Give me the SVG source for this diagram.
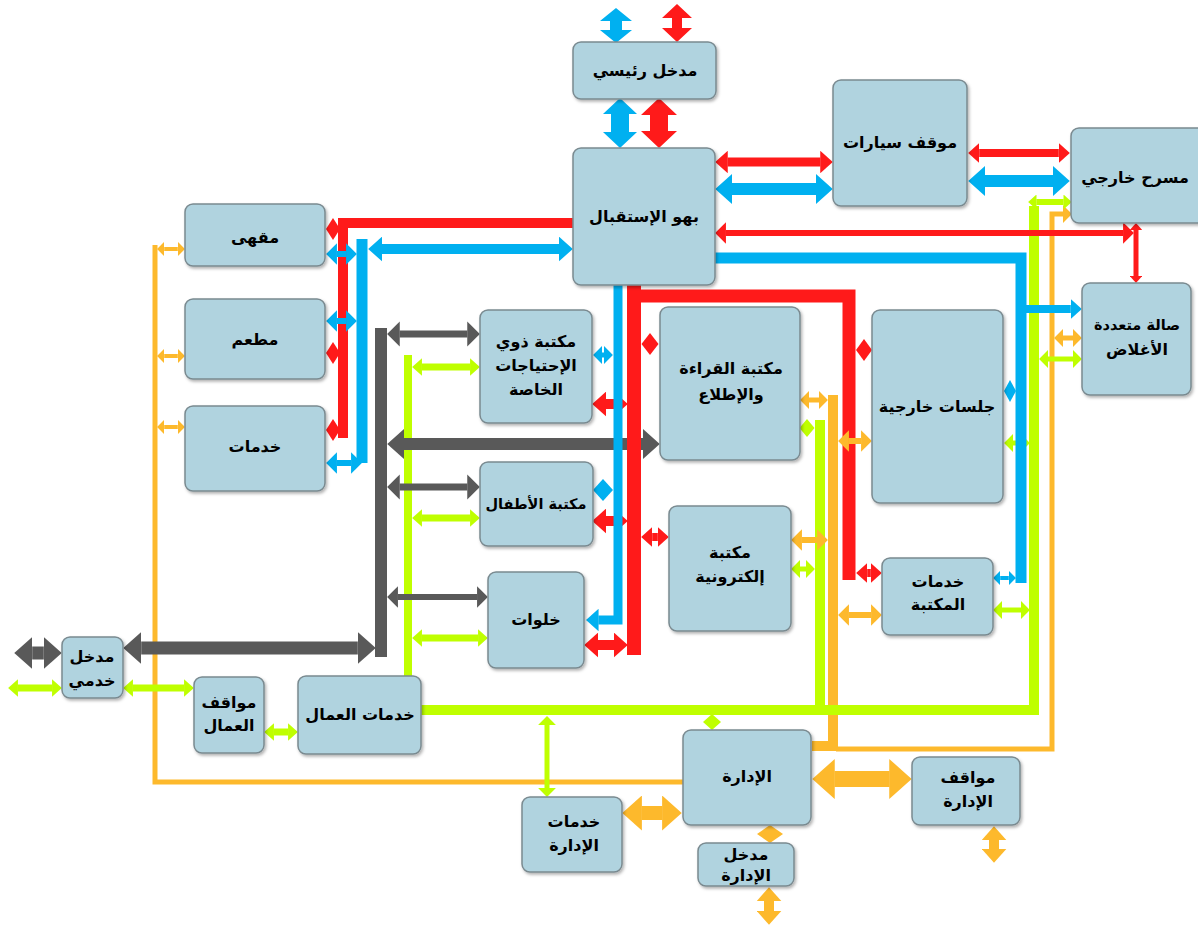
<svg xmlns="http://www.w3.org/2000/svg" width="1198" height="928" viewBox="0 0 1198 928">
<style>
.n rect{fill:#b0d3df;stroke:#7a8a90;stroke-width:1.5;filter:url(#sh)}
text{font-family:"DejaVu Sans",sans-serif;font-weight:bold;font-size:16px;text-anchor:middle;fill:#000}
text.s{font-size:14.5px}
line,polyline{fill:none}
.r{stroke:#ff1a1a}.b{stroke:#00b0f0}.g{stroke:#bfff00}.o{stroke:#fdb92c}.k{stroke:#595959}
.fr{fill:#ff1a1a}.fb{fill:#00b0f0}.fg{fill:#bfff00}.fo{fill:#fdb92c}.fk{fill:#595959}
.rn{marker-start:url(#rn);marker-end:url(#rn)}.rt{marker-start:url(#rt);marker-end:url(#rt)}
.bn{marker-start:url(#bn);marker-end:url(#bn)}.bt{marker-start:url(#bt);marker-end:url(#bt)}
.gn{marker-start:url(#gn);marker-end:url(#gn)}.gt{marker-start:url(#gt);marker-end:url(#gt)}
.on{marker-start:url(#on);marker-end:url(#on)}.ot{marker-start:url(#ot);marker-end:url(#ot)}
.kn{marker-start:url(#kn);marker-end:url(#kn)}.kt{marker-start:url(#kt);marker-end:url(#kt)}
</style>
<defs>
<filter id="sh" x="-10%" y="-10%" width="130%" height="130%"><feDropShadow dx="1.5" dy="2" stdDeviation="1.5" flood-color="#000" flood-opacity="0.3"/></filter>
<marker id="rn" viewBox="0 -1.25 1.4 2.5" refX="0.02" refY="0" markerWidth="1.4" markerHeight="2.5" orient="auto-start-reverse"><path d="M0,-1.25L1.4,0L0,1.25Z" fill="#ff1a1a"/></marker>
<marker id="bn" viewBox="0 -1.25 1.4 2.5" refX="0.02" refY="0" markerWidth="1.4" markerHeight="2.5" orient="auto-start-reverse"><path d="M0,-1.25L1.4,0L0,1.25Z" fill="#00b0f0"/></marker>
<marker id="gn" viewBox="0 -1.25 1.4 2.5" refX="0.02" refY="0" markerWidth="1.4" markerHeight="2.5" orient="auto-start-reverse"><path d="M0,-1.25L1.4,0L0,1.25Z" fill="#bfff00"/></marker>
<marker id="on" viewBox="0 -1.25 1.4 2.5" refX="0.02" refY="0" markerWidth="1.4" markerHeight="2.5" orient="auto-start-reverse"><path d="M0,-1.25L1.4,0L0,1.25Z" fill="#fdb92c"/></marker>
<marker id="kn" viewBox="0 -1.25 1.4 2.5" refX="0.02" refY="0" markerWidth="1.4" markerHeight="2.5" orient="auto-start-reverse"><path d="M0,-1.25L1.4,0L0,1.25Z" fill="#595959"/></marker>
<marker id="rt" viewBox="0 -1.8 1.8 3.6" refX="0.02" refY="0" markerWidth="1.8" markerHeight="3.6" orient="auto-start-reverse"><path d="M0,-1.8L1.8,0L0,1.8Z" fill="#ff1a1a"/></marker>
<marker id="bt" viewBox="0 -1.8 1.8 3.6" refX="0.02" refY="0" markerWidth="1.8" markerHeight="3.6" orient="auto-start-reverse"><path d="M0,-1.8L1.8,0L0,1.8Z" fill="#00b0f0"/></marker>
<marker id="gt" viewBox="0 -1.8 1.8 3.6" refX="0.02" refY="0" markerWidth="1.8" markerHeight="3.6" orient="auto-start-reverse"><path d="M0,-1.8L1.8,0L0,1.8Z" fill="#bfff00"/></marker>
<marker id="ot" viewBox="0 -1.8 1.8 3.6" refX="0.02" refY="0" markerWidth="1.8" markerHeight="3.6" orient="auto-start-reverse"><path d="M0,-1.8L1.8,0L0,1.8Z" fill="#fdb92c"/></marker>
<marker id="kt" viewBox="0 -1.8 1.8 3.6" refX="0.02" refY="0" markerWidth="1.8" markerHeight="3.6" orient="auto-start-reverse"><path d="M0,-1.8L1.8,0L0,1.8Z" fill="#595959"/></marker>
</defs>
<rect width="1198" height="928" fill="#fff"/>
<g id="connectors">
<g id="orange">
<polyline class="o" stroke-width="5" points="155,245 155,782 683,782"/>
<polyline class="o" stroke-width="5" points="836,749 1052,749 1052,214 1063,214" marker-end="url(#ot)"/>
<polyline class="o" stroke-width="10" points="812,746 833,746 833,395"/>
<line class="o ot" stroke-width="4" x1="164.2" y1="249" x2="177.8" y2="249"/>
<line class="o ot" stroke-width="4" x1="164.2" y1="356" x2="177.8" y2="356"/>
<line class="o ot" stroke-width="4" x1="164.2" y1="427" x2="177.8" y2="427"/>
<line class="o on" stroke-width="16" x1="834.4" y1="779" x2="889.6" y2="779"/>
<line class="o on" stroke-width="14" x1="641.6" y1="813" x2="662.4" y2="813"/>
<line class="o on" stroke-width="10" x1="769" y1="901" x2="769" y2="911"/>
<line class="o on" stroke-width="10" x1="994" y1="840" x2="994" y2="849"/>
<polygon class="fo" points="757,834 770,825 783,834 770,843"/>
<line class="o ot" stroke-width="5" x1="809" y1="400" x2="819" y2="400"/>
<line class="o ot" stroke-width="6" x1="848.8" y1="615" x2="871.2" y2="615"/>
<line class="o ot" stroke-width="5" x1="1063" y1="338" x2="1073" y2="338"/>
</g>
<g id="green">
<polyline class="g" stroke-width="10" points="421,710 1034,710 1034,206"/>
<line class="g" stroke-width="10" x1="820" y1="420" x2="820" y2="710"/>
<line class="g" stroke-width="8" x1="408" y1="355" x2="408" y2="676"/>
<line class="g gn" stroke-width="6" x1="1036.4" y1="202" x2="1063.6" y2="202"/>
<line class="g gt" stroke-width="5" x1="1048" y1="359" x2="1073" y2="359"/>
<line class="g gt" stroke-width="5" x1="1013" y1="443" x2="1021" y2="443"/>
<line class="g gt" stroke-width="5" x1="1002" y1="610" x2="1021" y2="610"/>
<polygon class="fg" points="799.5,428 807,419 814.5,428 807,437"/>
<line class="g gt" stroke-width="5" x1="800" y1="569" x2="806" y2="569"/>
<line class="g gn" stroke-width="7" x1="421.8" y1="367" x2="470.2" y2="367"/>
<line class="g gn" stroke-width="7" x1="421.8" y1="518" x2="470.2" y2="518"/>
<line class="g gn" stroke-width="7" x1="421.8" y1="638" x2="478.2" y2="638"/>
<line class="g gn" stroke-width="7" x1="17.8" y1="688" x2="52.2" y2="688"/>
<line class="g gn" stroke-width="7" x1="132.8" y1="688" x2="184.2" y2="688"/>
<line class="g gn" stroke-width="7" x1="273.8" y1="732" x2="288.2" y2="732"/>
<line class="g gt" stroke-width="5" x1="547" y1="725" x2="547" y2="788"/>
<polygon class="fg" points="703,722 712,714 721,722 712,730"/>
<line class="o ot" stroke-width="6" x1="801.8" y1="540" x2="817.2" y2="540"/>
</g>
<g id="gray">
<line class="k" stroke-width="12" x1="381" y1="328" x2="381" y2="657"/>
<line class="k kn" stroke-width="13" x1="141.2" y1="648" x2="357.8" y2="648"/>
<line class="k kn" stroke-width="13" x1="32.2" y1="653" x2="43.8" y2="653"/>
<line class="k kt" stroke-width="7" x1="399.6" y1="334" x2="467.4" y2="334"/>
<line class="k kn" stroke-width="12" x1="403.8" y1="444" x2="643.2" y2="444"/>
<line class="k kt" stroke-width="7" x1="399.6" y1="487" x2="467.4" y2="487"/>
<line class="k kt" stroke-width="6" x1="397.8" y1="597" x2="477.2" y2="597"/>
</g>
<g id="red">
<polygon class="fr" points="677,4 692,18 682,18 682,28 692,28 677,42 662,28 672,28 672,18 662,18"/>
<polygon class="fr" points="659,98 677,115 668,115 668,131 677,131 659,148 641,131 650,131 650,115 641,115"/>
<line class="r rn" stroke-width="9" x1="727.6" y1="162" x2="820.4" y2="162"/>
<line class="r rn" stroke-width="8" x1="979.2" y1="153" x2="1058.8" y2="153"/>
<line class="r rt" stroke-width="6" x1="725.8" y1="233" x2="1123.2" y2="233"/>
<line class="r rn" stroke-width="5" x1="1136" y1="230" x2="1136" y2="276"/>
<polyline class="r" stroke-width="10" points="573,223 343,223 343,438"/>
<polygon class="fr" points="326,229 333,218 340,229 333,240"/>
<polygon class="fr" points="326,353 333,342 340,353 333,364"/>
<polygon class="fr" points="326,430 333,419 340,430 333,441"/>
<line class="r" stroke-width="14" x1="634" y1="285" x2="634" y2="655"/>
<polyline class="r" stroke-width="13" points="627,296 849,296 849,580"/>
<line class="r rn" stroke-width="10" x1="606" y1="404" x2="614" y2="404"/>
<line class="r rn" stroke-width="10" x1="606" y1="521" x2="614" y2="521"/>
<line class="r rn" stroke-width="10" x1="598" y1="645" x2="614" y2="645"/>
<polygon class="fr" points="641.5,344 650,333 658.5,344 650,355"/>
<line class="r rn" stroke-width="8" x1="652.2" y1="537" x2="657.8" y2="537"/>
<polygon class="fr" points="856,350 864,339 872,350 864,361"/>
<line class="r rn" stroke-width="8" x1="867.2" y1="573" x2="870.8" y2="573"/>
</g>
<g id="blue">
<polygon class="fb" points="616,8 632,21 622,21 622,30 632,30 616,43 600,30 610,30 610,21 600,21"/>
<polygon class="fb" points="620,98 637,114 629,114 629,132 637,132 620,148 603,132 611,132 611,114 603,114"/>
<line class="b bn" stroke-width="12" x1="731.8" y1="189" x2="816.2" y2="189"/>
<line class="b bn" stroke-width="12" x1="984.8" y1="181" x2="1053.2" y2="181"/>
<polyline class="b" stroke-width="11" points="715,258 1021,258 1021,583"/>
<line class="b bt" stroke-width="4" x1="1000.2" y1="578" x2="1008.8" y2="578"/>
<line class="b" stroke-width="8" x1="1026" y1="309" x2="1070.8" y2="309" marker-end="url(#bn)"/>
<polygon class="fb" points="1004,391 1010,380 1016,391 1010,402"/>
<line class="b" stroke-width="11" x1="362" y1="239" x2="362" y2="463"/>
<line class="b bn" stroke-width="10" x1="382" y1="249" x2="559" y2="249"/>
<line class="b bt" stroke-width="6" x1="336.8" y1="254" x2="346.2" y2="254"/>
<line class="b bt" stroke-width="6" x1="336.8" y1="321" x2="346.2" y2="321"/>
<line class="b bt" stroke-width="6" x1="336.8" y1="463" x2="351.2" y2="463"/>
<polyline class="b" stroke-width="9" points="618,285 618,620 598.4,620" marker-end="url(#bn)"/>
<line class="b bt" stroke-width="5" x1="602" y1="355" x2="604" y2="355"/>
<polygon class="fb" points="593,490 603,479 613,490 603,501"/>
</g>
<line class="o ot" stroke-width="6" x1="848.8" y1="441" x2="861.2" y2="441"/>
</g>
<g id="n1" class="n"><rect x="573" y="42" width="143" height="57" rx="8"/><text x="645" y="76">مدخل رئيسي</text></g>
<g id="n2" class="n"><rect x="573" y="148" width="142" height="137" rx="8"/><text x="644" y="222">بهو الإستقبال</text></g>
<g id="n3" class="n"><rect x="833" y="80" width="134" height="126" rx="8"/><text x="900" y="148">موقف سيارات</text></g>
<g id="n4" class="n"><rect x="1071" y="128" width="135" height="95" rx="8"/><text x="1135" y="183">مسرح خارجي</text></g>
<g id="n5" class="n"><rect x="1082" y="283" width="109" height="112" rx="8"/><text class="s" x="1137" y="330">صالة متعددة</text><text x="1137" y="355">الأغلاض</text></g>
<g id="n6" class="n"><rect x="185" y="204" width="140" height="62" rx="8"/><text x="255" y="243">مقهى</text></g>
<g id="n7" class="n"><rect x="185" y="299" width="140" height="80" rx="8"/><text x="255" y="345">مطعم</text></g>
<g id="n8" class="n"><rect x="185" y="406" width="140" height="85" rx="8"/><text x="255" y="452">خدمات</text></g>
<g id="n9" class="n"><rect x="480" y="310" width="112" height="113" rx="8"/><text x="536" y="347">مكتبة ذوي</text><text x="536" y="371">الإحتياجات</text><text x="536" y="395">الخاصة</text></g>
<g id="n10" class="n"><rect x="660" y="307" width="140" height="153" rx="8"/><text x="731" y="374">مكتبة القراءة</text><text x="731" y="400">والإطلاع</text></g>
<g id="n11" class="n"><rect x="872" y="310" width="131" height="193" rx="8"/><text x="937" y="412">جلسات خارجية</text></g>
<g id="n12" class="n"><rect x="480" y="462" width="113" height="84" rx="8"/><text class="s" x="536" y="509">مكتبة الأطفال</text></g>
<g id="n13" class="n"><rect x="669" y="506" width="122" height="125" rx="8"/><text x="730" y="558">مكتبة</text><text x="730" y="582">إلكترونية</text></g>
<g id="n14" class="n"><rect x="882" y="558" width="111" height="77" rx="8"/><text x="938" y="587">خدمات</text><text x="938" y="610">المكتبة</text></g>
<g id="n15" class="n"><rect x="488" y="572" width="96" height="96" rx="8"/><text x="536" y="625">خلوات</text></g>
<g id="n16" class="n"><rect x="62" y="637" width="61" height="61" rx="8"/><text x="92" y="662">مدخل</text><text x="92" y="686">خدمي</text></g>
<g id="n17" class="n"><rect x="194" y="677" width="70" height="76" rx="8"/><text x="229" y="708">مواقف</text><text x="229" y="731">العمال</text></g>
<g id="n18" class="n"><rect x="298" y="676" width="123" height="78" rx="8"/><text x="360" y="720">خدمات العمال</text></g>
<g id="n19" class="n"><rect x="683" y="730" width="128" height="95" rx="8"/><text x="747" y="782">الإدارة</text></g>
<g id="n20" class="n"><rect x="522" y="797" width="100" height="75" rx="8"/><text x="574" y="827">خدمات</text><text x="574" y="851">الإدارة</text></g>
<g id="n21" class="n"><rect x="698" y="843" width="96" height="43" rx="8"/><text x="746" y="860">مدخل</text><text x="746" y="881">الإدارة</text></g>
<g id="n22" class="n"><rect x="912" y="757" width="108" height="68" rx="8"/><text x="968" y="783">مواقف</text><text x="968" y="807">الإدارة</text></g>
</svg>
